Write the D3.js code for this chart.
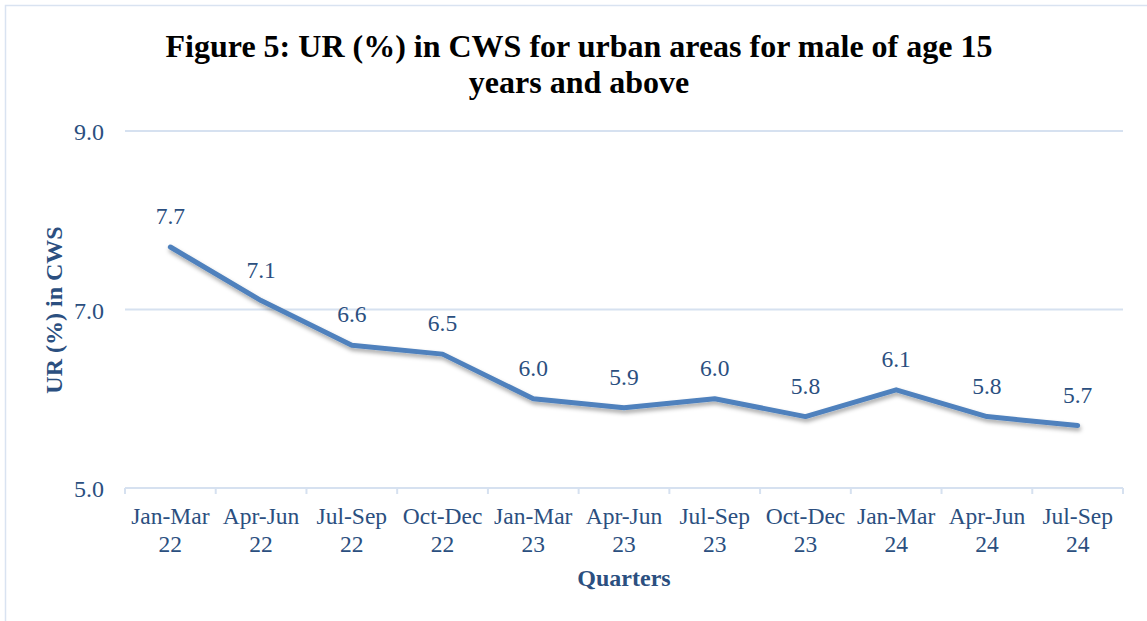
<!DOCTYPE html>
<html><head><meta charset="utf-8">
<script src="https://cdn.jsdelivr.net/npm/d3@7"></script>
<style>body{margin:0;background:#fff}svg{display:block}</style>
</head><body>
<svg id="c" width="1147" height="621"></svg>
<script>
const categories = [["Jan-Mar","22"],["Apr-Jun","22"],["Jul-Sep","22"],["Oct-Dec","22"],["Jan-Mar","23"],["Apr-Jun","23"],["Jul-Sep","23"],["Oct-Dec","23"],["Jan-Mar","24"],["Apr-Jun","24"],["Jul-Sep","24"]];
const values = [7.7, 7.1, 6.6, 6.5, 6.0, 5.9, 6.0, 5.8, 6.1, 5.8, 5.7];
const yTicks = [5.0, 7.0, 9.0];
const titleLines = ["Figure 5: UR (%) in CWS for urban areas for male of age 15", "years and above"];

const svg = d3.select("#c");
const font = "'Liberation Serif','Times New Roman',serif";
const txt = "#2b4f80";
const m = {l:125, r:1123, t:131, b:488};

svg.append("rect").attr("x",5.5).attr("y",5.5).attr("width",1150).attr("height",630)
  .attr("fill","none").attr("stroke","#d9e3f1").attr("stroke-width",1.5);

const x = d3.scaleBand().domain(d3.range(categories.length)).range([m.l,m.r]).padding(0);
const y = d3.scaleLinear().domain([5,9]).range([m.b,m.t]);

svg.append("g").selectAll("line").data(yTicks).join("line")
  .attr("x1",m.l).attr("x2",m.r).attr("y1",d=>y(d)).attr("y2",d=>y(d))
  .attr("stroke","#d6e1f0").attr("stroke-width",2);

const xb = d3.range(categories.length+1).map(i => i<categories.length ? x(i) : x(categories.length-1)+x.bandwidth());
svg.append("g").selectAll("line").data(xb).join("line")
  .attr("x1",d=>d).attr("x2",d=>d).attr("y1",m.b).attr("y2",m.b+6)
  .attr("stroke","#d6e1f0").attr("stroke-width",2);

svg.append("g").selectAll("text").data(yTicks).join("text")
  .attr("x",104).attr("y",d=>y(d)+9).attr("text-anchor","end")
  .attr("font-family",font).attr("font-size",24).attr("fill",txt)
  .text(d=>d.toFixed(1));

const xl = svg.append("g").selectAll("text").data(categories).join("text")
  .attr("text-anchor","middle").attr("font-family",font).attr("font-size",23.5).attr("fill",txt);
xl.append("tspan").attr("x",(d,i)=>x(i)+x.bandwidth()/2).attr("y",524).text(d=>d[0]);
xl.append("tspan").attr("x",(d,i)=>x(i)+x.bandwidth()/2).attr("y",552).text(d=>d[1]);

const defs = svg.append("defs");
const f = defs.append("filter").attr("id","sh").attr("x","-10%").attr("y","-10%").attr("width","120%").attr("height","130%");
f.append("feDropShadow").attr("dx",1).attr("dy",3).attr("stdDeviation",2).attr("flood-color","#000").attr("flood-opacity",0.35);

const line = d3.line().x((d,i)=>x(i)+x.bandwidth()/2).y(d=>y(d));
svg.append("path").datum(values).attr("d",line).attr("fill","none")
  .attr("stroke","#4f81bd").attr("stroke-width",5).attr("stroke-linejoin","round").attr("stroke-linecap","round")
  .attr("filter","url(#sh)");

svg.append("g").selectAll("text").data(values).join("text")
  .attr("x",(d,i)=>x(i)+x.bandwidth()/2).attr("y",d=>y(d)-23).attr("text-anchor","middle")
  .attr("font-family",font).attr("font-size",23.5).attr("fill",txt).text(d=>d.toFixed(1));

svg.append("g").selectAll("text").data(titleLines).join("text")
  .attr("x",579).attr("y",(d,i)=>57+i*36).attr("text-anchor","middle")
  .attr("font-family",font).attr("font-size",32).attr("font-weight","bold").attr("fill","#000").text(d=>d);

svg.append("text").attr("transform","translate(62,310) rotate(-90)").attr("text-anchor","middle")
  .attr("font-family",font).attr("font-size",24).attr("font-weight","bold").attr("fill",txt).text("UR (%) in CWS");
svg.append("text").attr("x",624).attr("y",586).attr("text-anchor","middle")
  .attr("font-family",font).attr("font-size",24).attr("font-weight","bold").attr("fill",txt).text("Quarters");
</script>
</body></html>
